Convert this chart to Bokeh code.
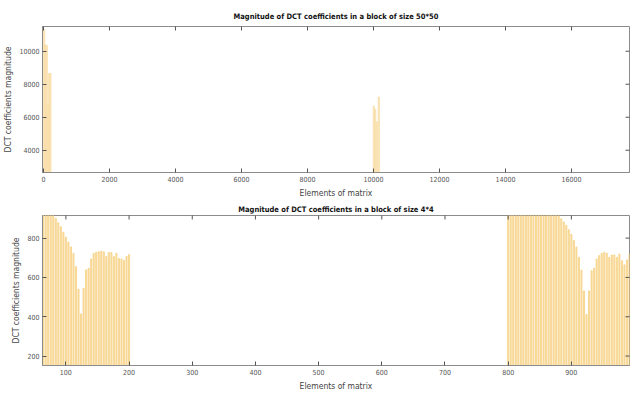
import math
from bokeh.plotting import figure
from bokeh.models import FixedTicker, Range1d, ColumnDataSource
from bokeh.layouts import column
from bokeh.embed import file_html
from bokeh.resources import INLINE

# ---- data: top chart (block 50*50) ----
top_a_x = [20, 60, 100, 135, 170, 210]
top_a_val = [11300, 10400, 10350, 6700, 8650, 8650]
top_b_x = [10010, 10050, 10100, 10160]
top_b_val = [6670, 6470, 5720, 7230]
top_xticks = [0, 2000, 4000, 6000, 8000, 10000, 12000, 14000, 16000]
top_yticks = [4000, 6000, 8000, 10000]

# ---- data: bottom chart (block 4*4) ----
seg1_x = list(range(64, 201, 4))
seg1_val = [960, 950, 940, 930, 918, 900, 878, 858, 830, 805,
            780, 755, 722, 655, 540, 414, 544, 638, 647, 694,
            722, 728, 730, 734, 730, 706, 727, 726, 706, 723,
            696, 694, 686, 707, 716]
seg2_x = list(range(800, 993, 4))
seg2_val = [1400, 1370, 1340, 1310, 1280, 1250, 1220, 1190, 1160, 1130,
            1100, 1075, 1050, 1030, 1010, 990, 975, 960, 945, 930,
            915, 899, 882, 865, 843, 819, 788, 754, 702, 637,
            531, 411, 531, 634, 647, 694, 711, 723, 728, 723,
            702, 714, 714, 702, 719, 685, 664, 689, 719]
bot_xticks = [100, 200, 300, 400, 500, 600, 700, 800, 900]
bot_yticks = [200, 400, 600, 800]

TITLE_FONT = "'DejaVu Sans Condensed', 'Liberation Sans'"
FONT = "'DejaVu Sans Condensed', 'Liberation Sans'"
TICK_COL = "#555555"
AX_COL = "#8c8c8c"


def style(p, xticks, yticks, title_standoff):
    p.toolbar_location = None
    p.xgrid.visible = False
    p.ygrid.visible = False
    p.outline_line_color = AX_COL
    p.outline_line_width = 1
    p.title.text_font = TITLE_FONT
    p.title.text_font_size = "7.5px"
    p.title.text_font_style = "bold"
    p.title.align = "center"
    p.title.text_color = "#111111"
    p.title.offset = 0
    p.title.standoff = title_standoff
    for ax in (p.xaxis[0], p.yaxis[0]):
        ax.major_tick_in = 4
        ax.major_tick_out = 0
        ax.minor_tick_line_color = None
        ax.axis_line_color = AX_COL
        ax.major_tick_line_color = "#555555"
        ax.major_label_text_font = FONT
        ax.major_label_text_font_size = "7px"
        ax.major_label_text_color = TICK_COL
        ax.axis_label_text_font = FONT
        ax.axis_label_text_font_size = "8.5px"
        ax.axis_label_text_font_style = "normal"
        ax.axis_label_text_color = "#444444"
        ax.major_label_standoff = 3
        ax.axis_label_standoff = 3
    p.xaxis[0].ticker = FixedTicker(ticks=xticks)
    p.yaxis[0].ticker = FixedTicker(ticks=yticks)
    p.xaxis[0].axis_label = "Elements of matrix"
    p.yaxis[0].axis_label = "DCT coefficients magnitude"
    # mirrored tick marks on top and right edges (box on)
    xr, yr = p.x_range, p.y_range
    p.scatter(x=xticks, y=[yr.end] * len(xticks), marker="dash", angle=math.pi / 2,
              size=8, line_color="#555555", line_width=1)
    p.scatter(x=[xr.end] * len(yticks), y=yticks, marker="dash",
              size=8, line_color="#555555", line_width=1)


p1 = figure(width=636, height=201, output_backend="svg", toolbar_location=None,
            title="Magnitude of DCT coefficients in a block of size 50*50",
            x_range=Range1d(-30, 17757), y_range=Range1d(2650, 11500),
            min_border_left=40, min_border_right=7, min_border_top=26, min_border_bottom=29)
src_a = ColumnDataSource(dict(x=top_a_x + top_b_x, top=top_a_val + top_b_val))
p1.vbar(x="x", top="top", bottom=0, width=40, source=src_a,
        fill_color="#FCE8C0", line_color="#F7D99C", line_width=0.6)
style(p1, top_xticks, top_yticks, 12)

p2 = figure(width=636, height=192, output_backend="svg", toolbar_location=None,
            title="Magnitude of DCT coefficients in a block of size 4*4",
            x_range=Range1d(63, 992), y_range=Range1d(152, 915),
            min_border_left=38, min_border_right=3, min_border_top=14, min_border_bottom=28)
src_b = ColumnDataSource(dict(x=seg1_x + seg2_x, top=seg1_val + seg2_val))
p2.vbar(x="x", top="top", bottom=0, width=1.8, source=src_b,
        fill_color="#FDE9C2", line_color="#F4C462", line_width=0.6)
style(p2, bot_xticks, bot_yticks, 3)

layout = column(p1, p2, spacing=0)
open("out.html", "w").write(file_html(layout, INLINE))
